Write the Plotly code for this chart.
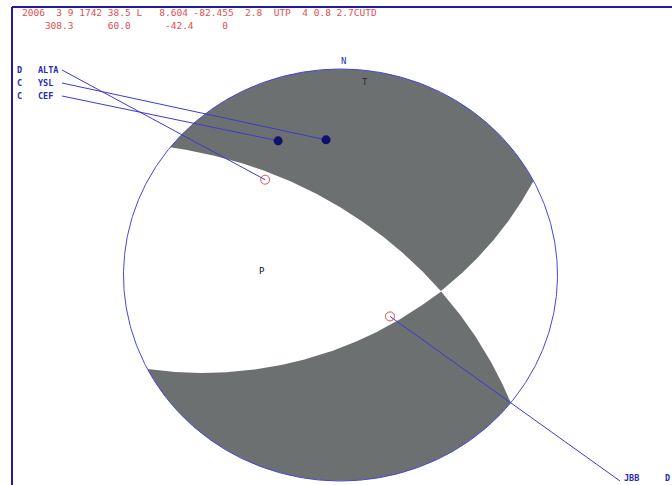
import numpy as np
import plotly.graph_objects as go

# ---------------- data ----------------
# focal mechanism (strike, dip, rake) of nodal plane 1
STRIKE = 308.3
DIP = 60.0
RAKE = -42.4

header_line1 = "2006  3 9 1742 38.5 L   8.604 -82.455  2.8  UTP  4 0.8 2.7CUTD"
header_line2 = "    308.3      60.0      -42.4     0"

station_names = ["ALTA", "YSL", "CEF", "JBB"]
station_polarity = ["D", "C", "C", "D"]
station_azimuth = [323.1, 354.2, 336.2, 131.4]   # degrees from north
station_takeoff = [60.1, 66.8, 70.9, 33.8]       # degrees from vertical (down)

# ---------------- layout constants (pixels) ----------------
W, H = 672, 485
CX, CY, RX, RY = 340.5, 275.0, 217.0, 206.0
label_anchor_px = {"ALTA": (62, 70), "YSL": (62, 83), "CEF": (62, 96), "JBB": (620, 481)}
label_text_px = {"ALTA": (15, 36, 70), "YSL": (15, 36, 83), "CEF": (15, 36, 96)}

GRAY = "#6c7071"
BLUE = "#4646d6"
NAVY = "#10106e"
RED = "#e05050"


def px_to_data(px, py):
    return (px - CX) / RX, (CY - py) / RY


def fault_vectors(strike, dip, rake):
    f, d, l = np.radians([strike, dip, rake])
    n = np.array([-np.sin(d) * np.sin(f), np.sin(d) * np.cos(f), -np.cos(d)])
    s = np.array([np.cos(l) * np.cos(f) + np.cos(d) * np.sin(l) * np.sin(f),
                  np.cos(l) * np.sin(f) - np.cos(d) * np.sin(l) * np.cos(f),
                  -np.sin(d) * np.sin(l)])
    return n, s


def lower(v):
    v = np.asarray(v, float)
    return v if v[2] >= 0 else -v


def project(v):
    """stereographic lower-hemisphere projection of NED vectors (..., 3)"""
    v = np.asarray(v, float)
    return v[..., 1] / (1 + v[..., 2]), v[..., 0] / (1 + v[..., 2])


n, s = fault_vectors(STRIKE, DIP, RAKE)
T = (n + s) / np.sqrt(2)
P = (n - s) / np.sqrt(2)
B = lower(np.cross(n, s))
B /= np.linalg.norm(B)


def polarity(v):
    return np.dot(v, T) ** 2 - np.dot(v, P) ** 2


def plane_basis(u):
    h = np.cross(u, [0, 0, 1.0])
    h /= np.linalg.norm(h)
    w = np.cross(u, h)
    w /= np.linalg.norm(w)
    if w[2] < 0:
        w = -w
    return h, w


planes = []
for u in (n, s):
    h, w = plane_basis(u)
    thB = np.arctan2(np.dot(B, w), np.dot(B, h))
    planes.append((h, w, thB))


def plane_pts(k, th0, th1, num=200):
    h, w, _ = planes[k]
    th = np.linspace(th0, th1, num)
    v = np.cos(th)[:, None] * h + np.sin(th)[:, None] * w
    return project(v)


# endpoints on primitive
ends = []
for k, (h, w, thB) in enumerate(planes):
    for th, vec in ((0.0, h), (np.pi, -h)):
        az = np.degrees(np.arctan2(vec[1], vec[0])) % 360
        ends.append((az, k, th))
ends.sort()

lobes = []
for i in range(4):
    a0, k0, t0 = ends[i]
    a1, k1, t1 = ends[(i + 1) % 4]
    if a1 <= a0:
        a1 += 360
    am = np.radians((a0 + a1) / 2)
    vm = np.array([np.cos(am), np.sin(am), 0.02])
    if polarity(vm) <= 0:
        continue
    arc = np.radians(np.linspace(a0, a1, 200))
    xs = list(np.sin(arc)); ys = list(np.cos(arc))
    px1, py1 = plane_pts(k1, t1, planes[k1][2])
    xs += list(px1); ys += list(py1)
    px0, py0 = plane_pts(k0, planes[k0][2], t0)
    xs += list(px0); ys += list(py0)
    lobes.append((xs, ys))

fig = go.Figure()
for xs, ys in lobes:
    fig.add_trace(go.Scatter(x=xs, y=ys, mode="lines", fill="toself", fillcolor=GRAY,
                             line=dict(width=0, color=GRAY), hoverinfo="skip", showlegend=False))

# primitive circle
t = np.linspace(0, 2 * np.pi, 721)
fig.add_trace(go.Scatter(x=np.sin(t), y=np.cos(t), mode="lines",
                         line=dict(color=BLUE, width=1), hoverinfo="skip", showlegend=False))

# stations
st_x, st_y = [], []
for az, toa in zip(station_azimuth, station_takeoff):
    a, tk = np.radians(az), np.radians(toa)
    v = np.array([np.cos(a) * np.sin(tk), np.sin(a) * np.sin(tk), np.cos(tk)])
    x, y = project(v)
    st_x.append(float(x)); st_y.append(float(y))

for name, x, y in zip(station_names, st_x, st_y):
    lx, ly = px_to_data(*label_anchor_px[name])
    fig.add_trace(go.Scatter(x=[lx, x], y=[ly, y], mode="lines",
                             line=dict(color="#3c3cc8", width=1), hoverinfo="skip", showlegend=False))

for name, pol, x, y in zip(station_names, station_polarity, st_x, st_y):
    if pol == "C":
        marker = dict(symbol="circle", size=9, color=NAVY, line=dict(width=0))
    else:
        marker = dict(symbol="circle-open", size=9, color=RED, line=dict(width=1, color=RED))
    fig.add_trace(go.Scatter(x=[x], y=[y], mode="markers", marker=marker,
                             hoverinfo="skip", showlegend=False))

# P and T axes labels
px_, py_ = project(lower(P))
tx_, ty_ = project(lower(T))

ann = []
mono = "DejaVu Sans Mono"
ann.append(dict(x=float(px_), y=float(py_), xref="x", yref="y", text="P", showarrow=False,
                font=dict(family=mono, size=9, color="#111111")))
ann.append(dict(x=float(tx_), y=float(ty_), xref="x", yref="y", text="T", showarrow=False,
                font=dict(family=mono, size=9, color="#2e2e2e")))


def paper(px, py):
    return px / W, 1 - py / H


for txt, (ppx, ppy) in ((header_line1, (20, 12)), (header_line2, (20, 25))):
    xp, yp = paper(ppx, ppy)
    ann.append(dict(x=xp, y=yp, xref="paper", yref="paper", text=txt.replace(" ", "&nbsp;"),
                    showarrow=False, xanchor="left", yanchor="middle",
                    font=dict(family=mono, size=9.5, color=RED)))

xp, yp = paper(343, 54)
ann.append(dict(x=xp, y=yp, xref="paper", yref="paper", text="N", showarrow=False,
                font=dict(family=mono, size=9, color="#2a2ab8")))

for name, pol in zip(station_names, station_polarity):
    if name in label_text_px:
        xpol, xname, yy = label_text_px[name]
        for txt, xx in ((pol, xpol), (name, xname)):
            xp, yp = paper(xx, yy)
            ann.append(dict(x=xp, y=yp, xref="paper", yref="paper", text="<b>" + txt + "</b>",
                            showarrow=False, xanchor="left", yanchor="middle",
                            font=dict(family=mono, size=8.5, color="#2a2ab8")))
    else:
        for txt, xx in ((name, 622), (pol, 663)):
            xp, yp = paper(xx, 478)
            ann.append(dict(x=xp, y=yp, xref="paper", yref="paper", text="<b>" + txt + "</b>",
                            showarrow=False, xanchor="left", yanchor="middle",
                            font=dict(family=mono, size=8.5, color="#2a2ab8")))

shapes = [
    dict(type="line", xref="paper", yref="paper", x0=12 / W, x1=1.0, y0=1 - 7 / H, y1=1 - 7 / H,
         line=dict(color="#1c1ca8", width=2)),
    dict(type="line", xref="paper", yref="paper", x0=12 / W, x1=12 / W, y0=1 - 7 / H, y1=0,
         line=dict(color="#1c1ca8", width=2)),
]

xr = [(0 - CX) / RX, (W - CX) / RX]
yr = [(CY - H) / RY, CY / RY]
fig.update_layout(
    width=W, height=H, margin=dict(l=0, r=0, t=0, b=0),
    paper_bgcolor="white", plot_bgcolor="white",
    xaxis=dict(range=xr, visible=False, fixedrange=True),
    yaxis=dict(range=yr, visible=False, fixedrange=True),
    annotations=ann, shapes=shapes, showlegend=False,
)
fig.write_html("out.html", config={"displayModeBar": False},
               post_script="document.body.style.margin='0';document.body.style.overflow='hidden';")
